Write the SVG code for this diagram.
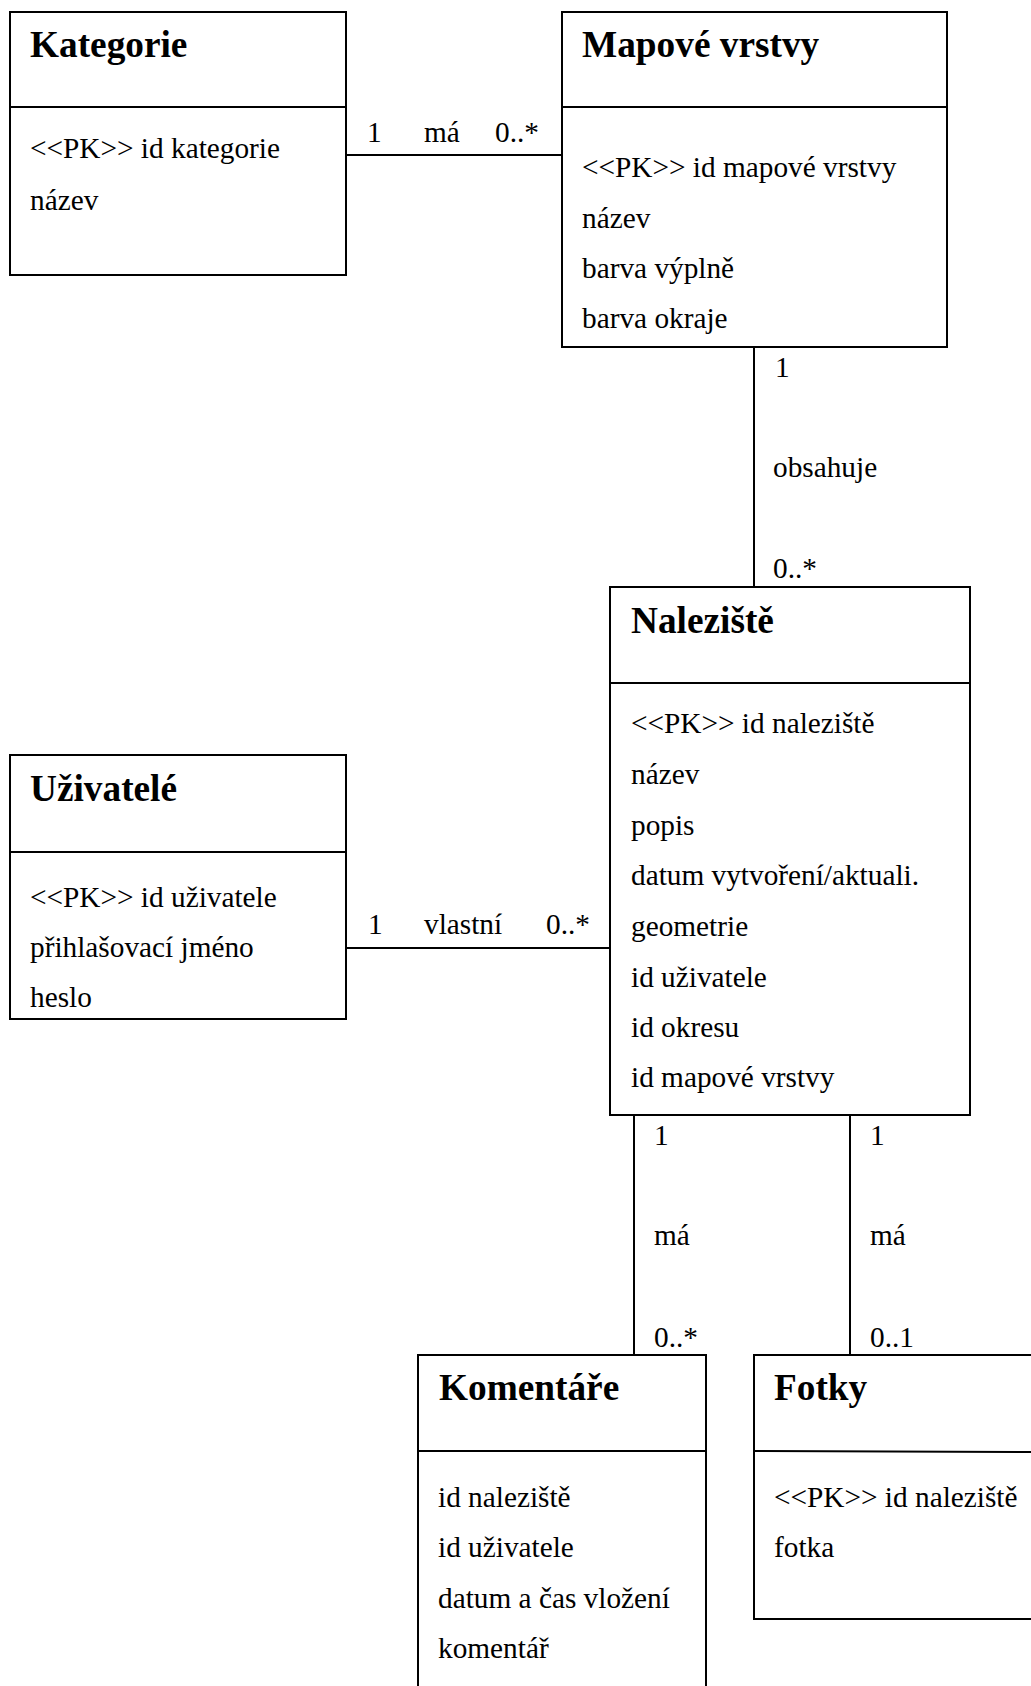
<svg xmlns="http://www.w3.org/2000/svg" width="1031" height="1686" viewBox="0 0 1031 1686">
<style>
.box{fill:#fff;stroke:#000;stroke-width:2}
.ln{stroke:#000;stroke-width:2;fill:none}
.t{font-family:"Liberation Serif","Times New Roman",serif;font-weight:bold;font-size:37.3px;fill:#000}
.r{font-family:"Liberation Serif","Times New Roman",serif;font-size:29.3px;fill:#000}
</style>
<rect width="1031" height="1686" fill="#fff"/>
<g id="connectors">
<line class="ln" x1="346" y1="155" x2="562" y2="155"/>
<text class="r" x="367" y="142">1</text>
<text class="r" x="424" y="142">má</text>
<text class="r" x="495" y="142">0..*</text>
<line class="ln" x1="754" y1="347" x2="754" y2="587"/>
<text class="r" x="775" y="377">1</text>
<text class="r" x="773" y="477">obsahuje</text>
<text class="r" x="773" y="578">0..*</text>
<line class="ln" x1="346" y1="948" x2="610" y2="948"/>
<text class="r" x="368" y="934">1</text>
<text class="r" x="424" y="934">vlastní</text>
<text class="r" x="546" y="934">0..*</text>
<line class="ln" x1="634" y1="1115" x2="634" y2="1355"/>
<text class="r" x="654" y="1145">1</text>
<text class="r" x="654" y="1245">má</text>
<text class="r" x="654" y="1347">0..*</text>
<line class="ln" x1="850" y1="1115" x2="850" y2="1355"/>
<text class="r" x="870" y="1145">1</text>
<text class="r" x="870" y="1245">má</text>
<text class="r" x="870" y="1347">0..1</text>
</g>
<g id="kategorie">
<rect class="box" x="10" y="12" width="336" height="263"/>
<line class="ln" x1="10" y1="107" x2="346" y2="107"/>
<text class="t" x="30" y="57">Kategorie</text>
<text class="r" x="30" y="158">&lt;&lt;PK&gt;&gt; id kategorie</text>
<text class="r" x="30" y="210">název</text>
</g>
<g id="mapove-vrstvy">
<rect class="box" x="562" y="12" width="385" height="335"/>
<line class="ln" x1="562" y1="107" x2="947" y2="107"/>
<text class="t" x="582" y="57">Mapové vrstvy</text>
<text class="r" x="582" y="177">&lt;&lt;PK&gt;&gt; id mapové vrstvy</text>
<text class="r" x="582" y="228">název</text>
<text class="r" x="582" y="278">barva výplně</text>
<text class="r" x="582" y="328">barva okraje</text>
</g>
<g id="naleziste">
<rect class="box" x="610" y="587" width="360" height="528"/>
<line class="ln" x1="610" y1="683" x2="970" y2="683"/>
<text class="t" x="631" y="633">Naleziště</text>
<text class="r" x="631" y="733">&lt;&lt;PK&gt;&gt; id naleziště</text>
<text class="r" x="631" y="784">název</text>
<text class="r" x="631" y="835">popis</text>
<text class="r" x="631" y="885">datum vytvoření/aktuali.</text>
<text class="r" x="631" y="936">geometrie</text>
<text class="r" x="631" y="987">id uživatele</text>
<text class="r" x="631" y="1037">id okresu</text>
<text class="r" x="631" y="1087">id mapové vrstvy</text>
</g>
<g id="uzivatele">
<rect class="box" x="10" y="755" width="336" height="264"/>
<line class="ln" x1="10" y1="852" x2="346" y2="852"/>
<text class="t" x="30" y="801">Uživatelé</text>
<text class="r" x="30" y="907">&lt;&lt;PK&gt;&gt; id uživatele</text>
<text class="r" x="30" y="957">přihlašovací jméno</text>
<text class="r" x="30" y="1007">heslo</text>
</g>
<g id="komentare">
<rect class="box" x="418" y="1355" width="288" height="345"/>
<line class="ln" x1="418" y1="1451" x2="706" y2="1451"/>
<text class="t" x="439" y="1400">Komentáře</text>
<text class="r" x="438" y="1507">id naleziště</text>
<text class="r" x="438" y="1557">id uživatele</text>
<text class="r" x="438" y="1608">datum a čas vložení</text>
<text class="r" x="438" y="1658">komentář</text>
</g>
<g id="fotky">
<rect class="box" x="754" y="1355" width="290" height="264"/>
<line class="ln" x1="754" y1="1451" x2="1044" y2="1452"/>
<text class="t" x="774" y="1400">Fotky</text>
<text class="r" x="774" y="1507">&lt;&lt;PK&gt;&gt; id naleziště</text>
<text class="r" x="774" y="1557">fotka</text>
</g>
</svg>
